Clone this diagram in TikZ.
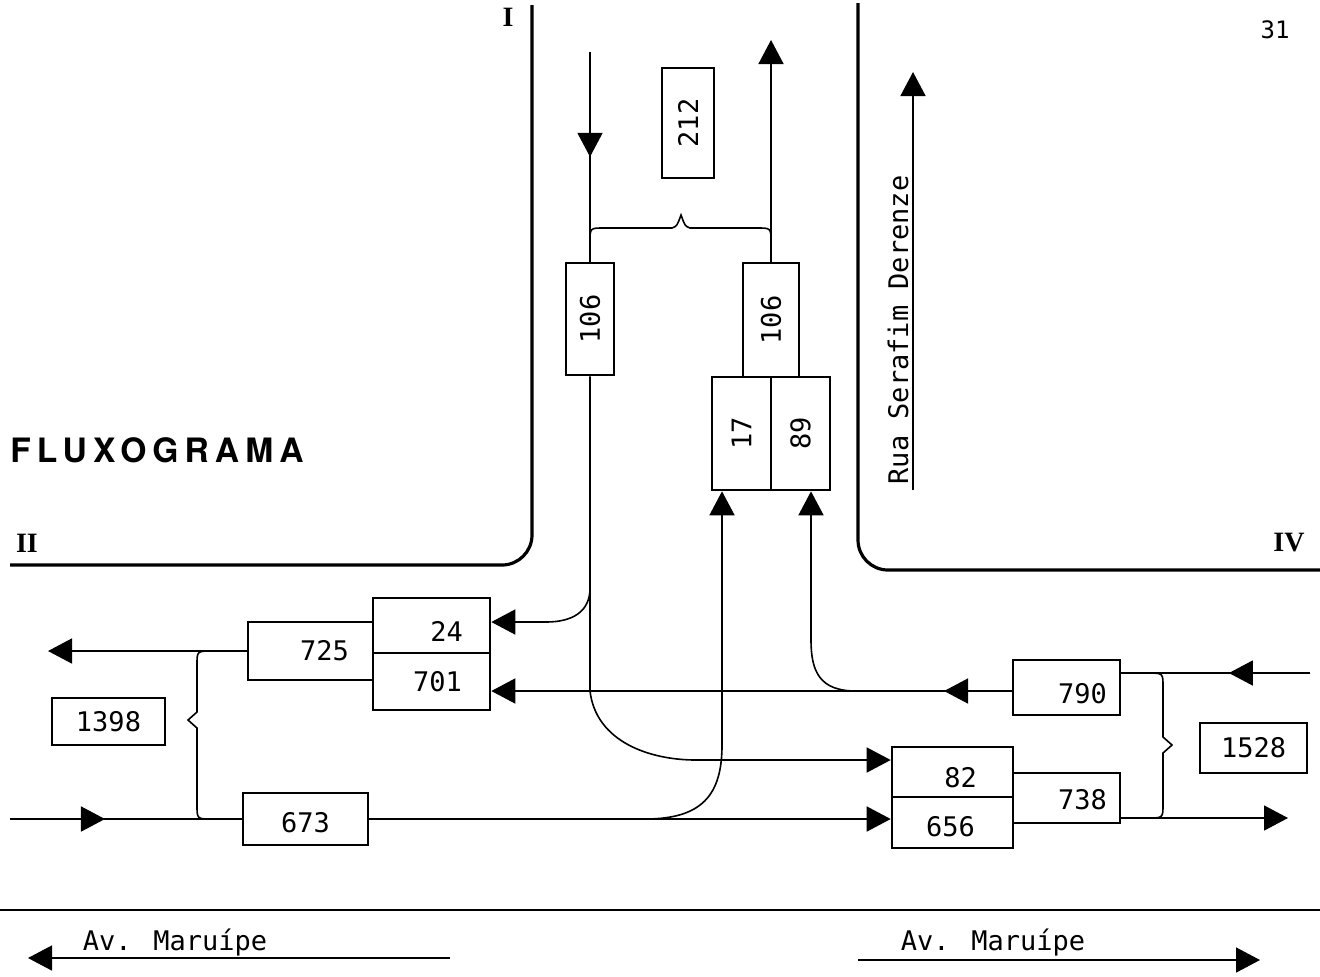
\documentclass[tikz,border=0pt]{standalone}
\usepackage{fontspec}
\setmainfont{Liberation Serif}
\newfontfamily\twfont{DejaVu Sans Mono}
\newfontfamily\headfont[LetterSpace=18]{TeX Gyre Heros}
\usetikzlibrary{arrows.meta,decorations.markings}
\newcommand{\numf}{\twfont\fontsize{13.5}{13.5}\selectfont}
\tikzset{
  bigtri/.tip={Triangle[length=12pt,width=12.5pt]},
  flow/.style={line width=0.8pt},
  road/.style={line width=1.6pt, rounded corners=15pt},
  box/.style={draw, line width=1.3pt, inner sep=0pt},
  endarrow/.style={-{bigtri}},
  midarrow/.style={postaction={decorate}, decoration={markings, mark=at position #1 with {\arrow{bigtri}}}},
  hl/.style={label={[font=\numf]center:#1}},
  vl/.style={label={[font=\numf, rotate=90]center:#1}},
  roman/.style={font=\bfseries\fontsize{14}{14}\selectfont},
  street/.style={font=\twfont\fontsize{13.5}{13.5}\selectfont}
}
\begin{document}
\begin{tikzpicture}[x=0.5pt,y=-0.5pt]
\useasboundingbox (0,0) rectangle (1320,976);

% streets
\draw[road] (532,5) -- (532,565) -- (10,565);
\draw[road] (858,3) -- (858,570) -- (1320,570);
\draw[line width=1.3pt] (0,910) -- (1320,910);

% labels
\node[roman] (rI) at (508,17) {I};
\node[roman] (rII) at (27,543) {II};
\node[roman] (rIV) at (1289,543) {IV};
\node[font=\twfont\fontsize{12}{12}\selectfont] (pg) at (1275,30) {31};
\node[font=\headfont\bfseries\fontsize{16.8}{16.8}\selectfont, anchor=base west, inner sep=0pt] (title) at (10,462) {FLUXOGRAMA};

% Rua Serafim Derenze
\coordinate (ruaA) at (913,490);
\coordinate (ruaB) at (913,72);
\draw[flow, endarrow] (ruaA) -- (ruaB);
\node[street, rotate=90, anchor=base, inner sep=0pt] (rua) at (908,330) {Rua Serafim Derenze};

% Av. Maruipe
\node[street, anchor=base, inner sep=0pt] (avL) at (175,950) {Av. Maruípe};
\node[street, anchor=base, inner sep=0pt] (avR) at (993,950) {Av. Maruípe};
\coordinate (avLa) at (450,958);
\coordinate (avLb) at (28,958);
\coordinate (avRa) at (858,960);
\coordinate (avRb) at (1260,960);
\draw[flow, endarrow] (avLa) -- (avLb);
\draw[flow, endarrow] (avRa) -- (avRb);

% boxes
\node[box, minimum width=26pt, minimum height=55pt, vl=212] (b212) at (688,123) {};
\node[box, minimum width=24pt, minimum height=56pt, vl=106] (b106l) at (590,319) {};
\node[box, minimum width=28pt, minimum height=57pt, vl=106] (b106r) at (771,320) {};
\node[box, minimum width=29.5pt, minimum height=56.5pt, vl=17] (b17) at (741.5,433.5) {};
\node[box, minimum width=29.5pt, minimum height=56.5pt, vl=89] (b89) at (800.5,433.5) {};

\node[box, minimum width=62.5pt, minimum height=29pt, label={[font=\numf, xshift=7pt]center:725}] (b725) at (310.5,651) {};
\node[box, minimum width=58.5pt, minimum height=27.5pt, label={[font=\numf, xshift=7.5pt, yshift=-3pt]center:24}] (b24) at (431.5,625.5) {};
\node[box, minimum width=58.5pt, minimum height=28.5pt, label={[font=\numf, xshift=3pt]center:701}] (b701) at (431.5,681.5) {};
\node[box, minimum width=56.5pt, minimum height=23.5pt, hl=1398] (b1398) at (108.5,721.5) {};
\node[box, minimum width=62.5pt, minimum height=26pt, label={[font=\numf, yshift=-2pt]center:673}] (b673) at (305.5,819) {};

\node[box, minimum width=60.5pt, minimum height=25pt, label={[font=\numf, xshift=4pt, yshift=-3pt]center:82}] (b82) at (952.5,772) {};
\node[box, minimum width=60.5pt, minimum height=25.5pt, label={[font=\numf, xshift=-1pt, yshift=-2pt]center:656}] (b656) at (952.5,822.5) {};
\node[box, minimum width=53.5pt, minimum height=25pt, label={[font=\numf, xshift=8pt, yshift=-1pt]center:738}] (b738) at (1066.5,798) {};
\node[box, minimum width=53.5pt, minimum height=27.5pt, label={[font=\numf, xshift=8pt, yshift=-3pt]center:790}] (b790) at (1066.5,687.5) {};
\node[box, minimum width=53.5pt, minimum height=25pt, hl=1528] (b1528) at (1253.5,748) {};

% approach I
\coordinate (inI) at (590,52);
\coordinate (outI) at (771,40);
\draw[flow, midarrow=0.5] (inI) -- (b106l.north);
\draw[flow, endarrow] (b106r.north) -- (outI);
\draw[flow] (590,242) .. controls (590,228) .. (604,228) -- (672,228) .. controls (677,226) .. (681,215) .. controls (685,226) .. (690,228) -- (757,228) .. controls (771,228) .. (771,242);

% from I down
\draw[flow, endarrow] (b106l.south) -- (590,588) .. controls (590,612) and (572,622) .. (546,622) -- (b24.east |- 0,622);
\draw[flow, endarrow] (590,586) -- (590,691) .. controls (596,742) and (650,760) .. (696,760) -- (b82.west |- 0,760);

% from IV
\coordinate (inIV) at (1310,673);
\coordinate (outIV) at (1288,818);
\draw[flow, midarrow=0.43] (inIV) -- (b790.east |- 0,673);
\draw[flow, endarrow, midarrow=0.13] (b790.west |- 0,691) -- (b701.east |- 0,691);
\draw[flow, endarrow] (856,691) .. controls (820,691) and (811,672) .. (811,640) -- (811,0 |- b89.south);
\draw[flow, endarrow] (b738.east |- 0,818) -- (outIV);
\draw[flow] (1148,673) .. controls (1163,673) .. (1163,687) -- (1163,737) -- (1172,745) -- (1163,753) -- (1163,804) .. controls (1163,818) .. (1148,818);

% from II
\coordinate (inII) at (10,819);
\coordinate (outII) at (48,651);
\draw[flow, endarrow] (b725.west) -- (outII);
\draw[flow, midarrow=0.41] (inII) -- (b673.west);
\draw[flow, endarrow] (b673.east) -- (b656.west |- 0,819);
\draw[flow, endarrow] (645,819) .. controls (702,819) and (722,795) .. (722,745) -- (722,0 |- b17.south);
\draw[flow] (212,651) .. controls (197,651) .. (197,665) -- (197,712) -- (188,720) -- (197,728) -- (197,805) .. controls (197,819) .. (212,819);
\end{tikzpicture}
\end{document}
